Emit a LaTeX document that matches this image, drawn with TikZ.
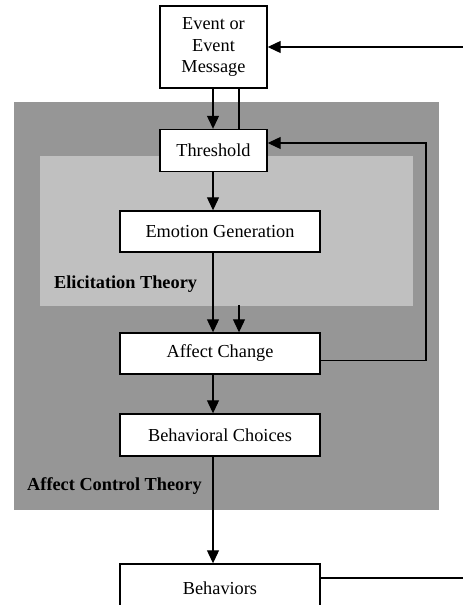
\documentclass[tikz,border=0pt]{standalone}
\usepackage{fontspec}
\setmainfont{Liberation Serif}
\usetikzlibrary{arrows.meta,calc}
\definecolor{actgray}{RGB}{150,150,150}
\definecolor{eltgray}{RGB}{192,192,192}
\tikzset{
  box/.style={draw=black,fill=white,line width=1.4pt,inner sep=0pt,align=center,
    font=\fontsize{18.3}{21.7}\selectfont},
  conn/.style={line width=1.1pt,-{Triangle[width=12pt,length=13pt]}},
  plain/.style={line width=1.1pt},
  lbl/.style={inner sep=0pt,anchor=west,font=\fontsize{18.3}{21.7}\selectfont\bfseries}
}
\begin{document}
\begin{tikzpicture}[x=1pt,y=-1pt]
\clip (0,0) rectangle (463,605);
\useasboundingbox (0,0) rectangle (463,605);
% regions
\fill[actgray] (14,102) rectangle (439,510);
\fill[eltgray] (40,156) rectangle (413,305.5);
\node[lbl] (elt) at (54,284) {Elicitation Theory};
\node[lbl] (act) at (27,486) {Affect Control Theory};
% boxes
\node[box,minimum width=107pt,minimum height=82pt] (ev) at (213.5,47) {Event or\\Event\\Message};
\node[box,minimum width=107pt,minimum height=42pt] (th) at (213.5,150.5) {Threshold};
\node[box,minimum width=200pt,minimum height=41pt] (eg) at (220,231.5) {Emotion Generation};
\node[box,minimum width=200pt,minimum height=41pt] (ac) at (220,353.5) {Affect Change};
\node[box,minimum width=200pt,minimum height=42pt] (bc) at (220,435) {Behavioral Choices};
\node[box,minimum width=200pt,minimum height=48pt] (bh) at (220,588) {Behaviors};
% free ends
\coordinate (inR) at (463,47);
\coordinate (outR) at (463,578);
\coordinate (fbx) at (426,143);
\coordinate (src2) at (239,305);
% connectors
\draw[conn] (inR) -- (ev.east |- inR);
\draw[conn] (ev.south -| 213,0) -- (th.north -| 213,0);
\draw[plain] (ev.south -| 239,0) -- (th.north -| 239,0);
\draw[conn] (th.south -| 213,0) -- (eg.north -| 213,0);
\draw[conn] (eg.south -| 213,0) -- (ac.north -| 213,0);
\draw[conn] (src2) -- (ac.north -| src2);
\draw[conn] (ac.east |- 0,360.7) -- (426,360.7) -- (fbx) -- (th.east |- fbx);
\draw[conn] (ac.south -| 213,0) -- (bc.north -| 213,0);
\draw[conn] (bc.south -| 213,0) -- (bh.north -| 213,0);
\draw[plain] (bh.east |- outR) -- (outR);
\end{tikzpicture}
\end{document}
